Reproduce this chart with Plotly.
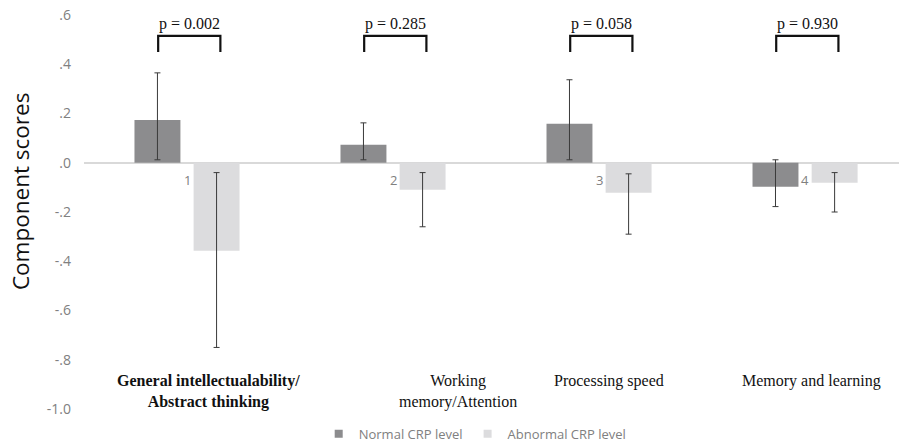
import plotly.graph_objects as go

categories = ["General intellectualability/<br>Abstract thinking", "Working<br>memory/Attention", "Processing speed", "Memory and learning"]
cat_numbers = ["1", "2", "3", "4"]
normal_vals = [0.174, 0.073, 0.158, -0.097]
normal_hi = [0.365, 0.162, 0.337, 0.012]
normal_lo = [0.012, 0.012, 0.012, -0.178]
abnormal_vals = [-0.357, -0.110, -0.122, -0.081]
abnormal_hi = [-0.040, -0.040, -0.045, -0.040]
abnormal_lo = [-0.750, -0.260, -0.290, -0.200]
p_values = ["p = 0.002", "p = 0.285", "p = 0.058", "p = 0.930"]
tick_vals = [0.6, 0.4, 0.2, 0.0, -0.2, -0.4, -0.6, -0.8, -1.0]
tick_text = [".6", ".4", ".2", ".0", "-.2", "-.4", "-.6", "-.8", "-1.0"]
series_names = ["Normal CRP level", "Abnormal CRP level"]
series_colors = ["#8c8c8e", "#dcdcde"]

x = list(range(len(categories)))

fig = go.Figure()
fig.add_trace(go.Bar(
    x=x, y=normal_vals, name=series_names[0], showlegend=False,
    marker=dict(color=series_colors[0], line=dict(width=0)),
    width=0.223, offset=-0.255,
    error_y=dict(type="data", symmetric=False,
                 array=[h - v for h, v in zip(normal_hi, normal_vals)],
                 arrayminus=[v - l for l, v in zip(normal_lo, normal_vals)],
                 color="#3a3a3a", thickness=1, width=3),
))
fig.add_trace(go.Bar(
    x=x, y=abnormal_vals, name=series_names[1], showlegend=False,
    marker=dict(color=series_colors[1], line=dict(width=0)),
    width=0.223, offset=0.032,
    error_y=dict(type="data", symmetric=False,
                 array=[h - v for h, v in zip(abnormal_hi, abnormal_vals)],
                 arrayminus=[v - l for l, v in zip(abnormal_lo, abnormal_vals)],
                 color="#3a3a3a", thickness=1, width=3),
))
# legend entries with small square markers
for name, col in zip(series_names, series_colors):
    fig.add_trace(go.Scatter(x=[None], y=[None], mode="markers", name=name,
                             marker=dict(symbol="square", size=8, color=col)))

# p-value brackets
for i, p in enumerate(p_values):
    fig.add_shape(type="path",
                  path=f"M {i-0.14} 0.45 L {i-0.14} 0.515 L {i+0.162} 0.515 L {i+0.162} 0.45",
                  line=dict(color="#111111", width=2.2), xref="x", yref="y")
    fig.add_annotation(x=i + 0.01, y=0.515, text=p, showarrow=False, yanchor="bottom",
                       yshift=1, font=dict(family="Liberation Serif", size=16, color="#111111"))

# category numbers at axis
for i, n in enumerate(cat_numbers):
    fig.add_annotation(x=i, y=-0.07, text=n, showarrow=False,
                       font=dict(family="Open Sans", size=13, color="#808080"))

# category labels
label_pos = [(0.105, "bold"), (0.313, "normal"), (0.05, "normal"), (0.03, "normal")]
for i, (cat, (dx, weight)) in enumerate(zip(categories, label_pos)):
    txt = f"<b>{cat}</b>" if weight == "bold" else cat
    fig.add_annotation(x=i + dx, y=-0.84, text=txt, showarrow=False, yanchor="top",
                       align="center",
                       font=dict(family="Liberation Serif", size=16, color="#111111"))

# y-axis title
fig.add_annotation(xref="paper", yref="paper", x=0, y=0.553, xshift=-64,
                   text="Component scores", textangle=-90, showarrow=False,
                   xanchor="center", yanchor="middle",
                   font=dict(family="Open Sans", size=22.5, color="#111111"))

fig.update_layout(
    width=899, height=442,
    margin=dict(l=84, r=0, t=15, b=33, autoexpand=False),
    plot_bgcolor="white", paper_bgcolor="white",
    barmode="overlay",
    showlegend=True,
    legend=dict(orientation="h", x=0.48, xanchor="center", y=-0.025, yanchor="top",
                font=dict(family="Open Sans", size=13, color="#808080"),
                itemwidth=30, traceorder="normal", tracegroupgap=0,
                bgcolor="rgba(0,0,0,0)"),
    xaxis=dict(range=[-0.5, 3.456], showticklabels=False, showgrid=False,
               zeroline=False, showline=False, ticks="", automargin=False),
    yaxis=dict(range=[-1.0, 0.6], tickvals=tick_vals, ticktext=tick_text,
               showgrid=False, zeroline=True, zerolinecolor="#d9d9d9", zerolinewidth=2,
               showline=False, ticks="", ticklabelstandoff=12, automargin=False,
               ticklabeloverflow="allow",
               tickfont=dict(family="Open Sans", size=14, color="#808080")),
)

fig.write_html("out.html", config={"displayModeBar": False},
               post_script="document.body.style.margin='0';document.body.style.overflow='hidden';")
